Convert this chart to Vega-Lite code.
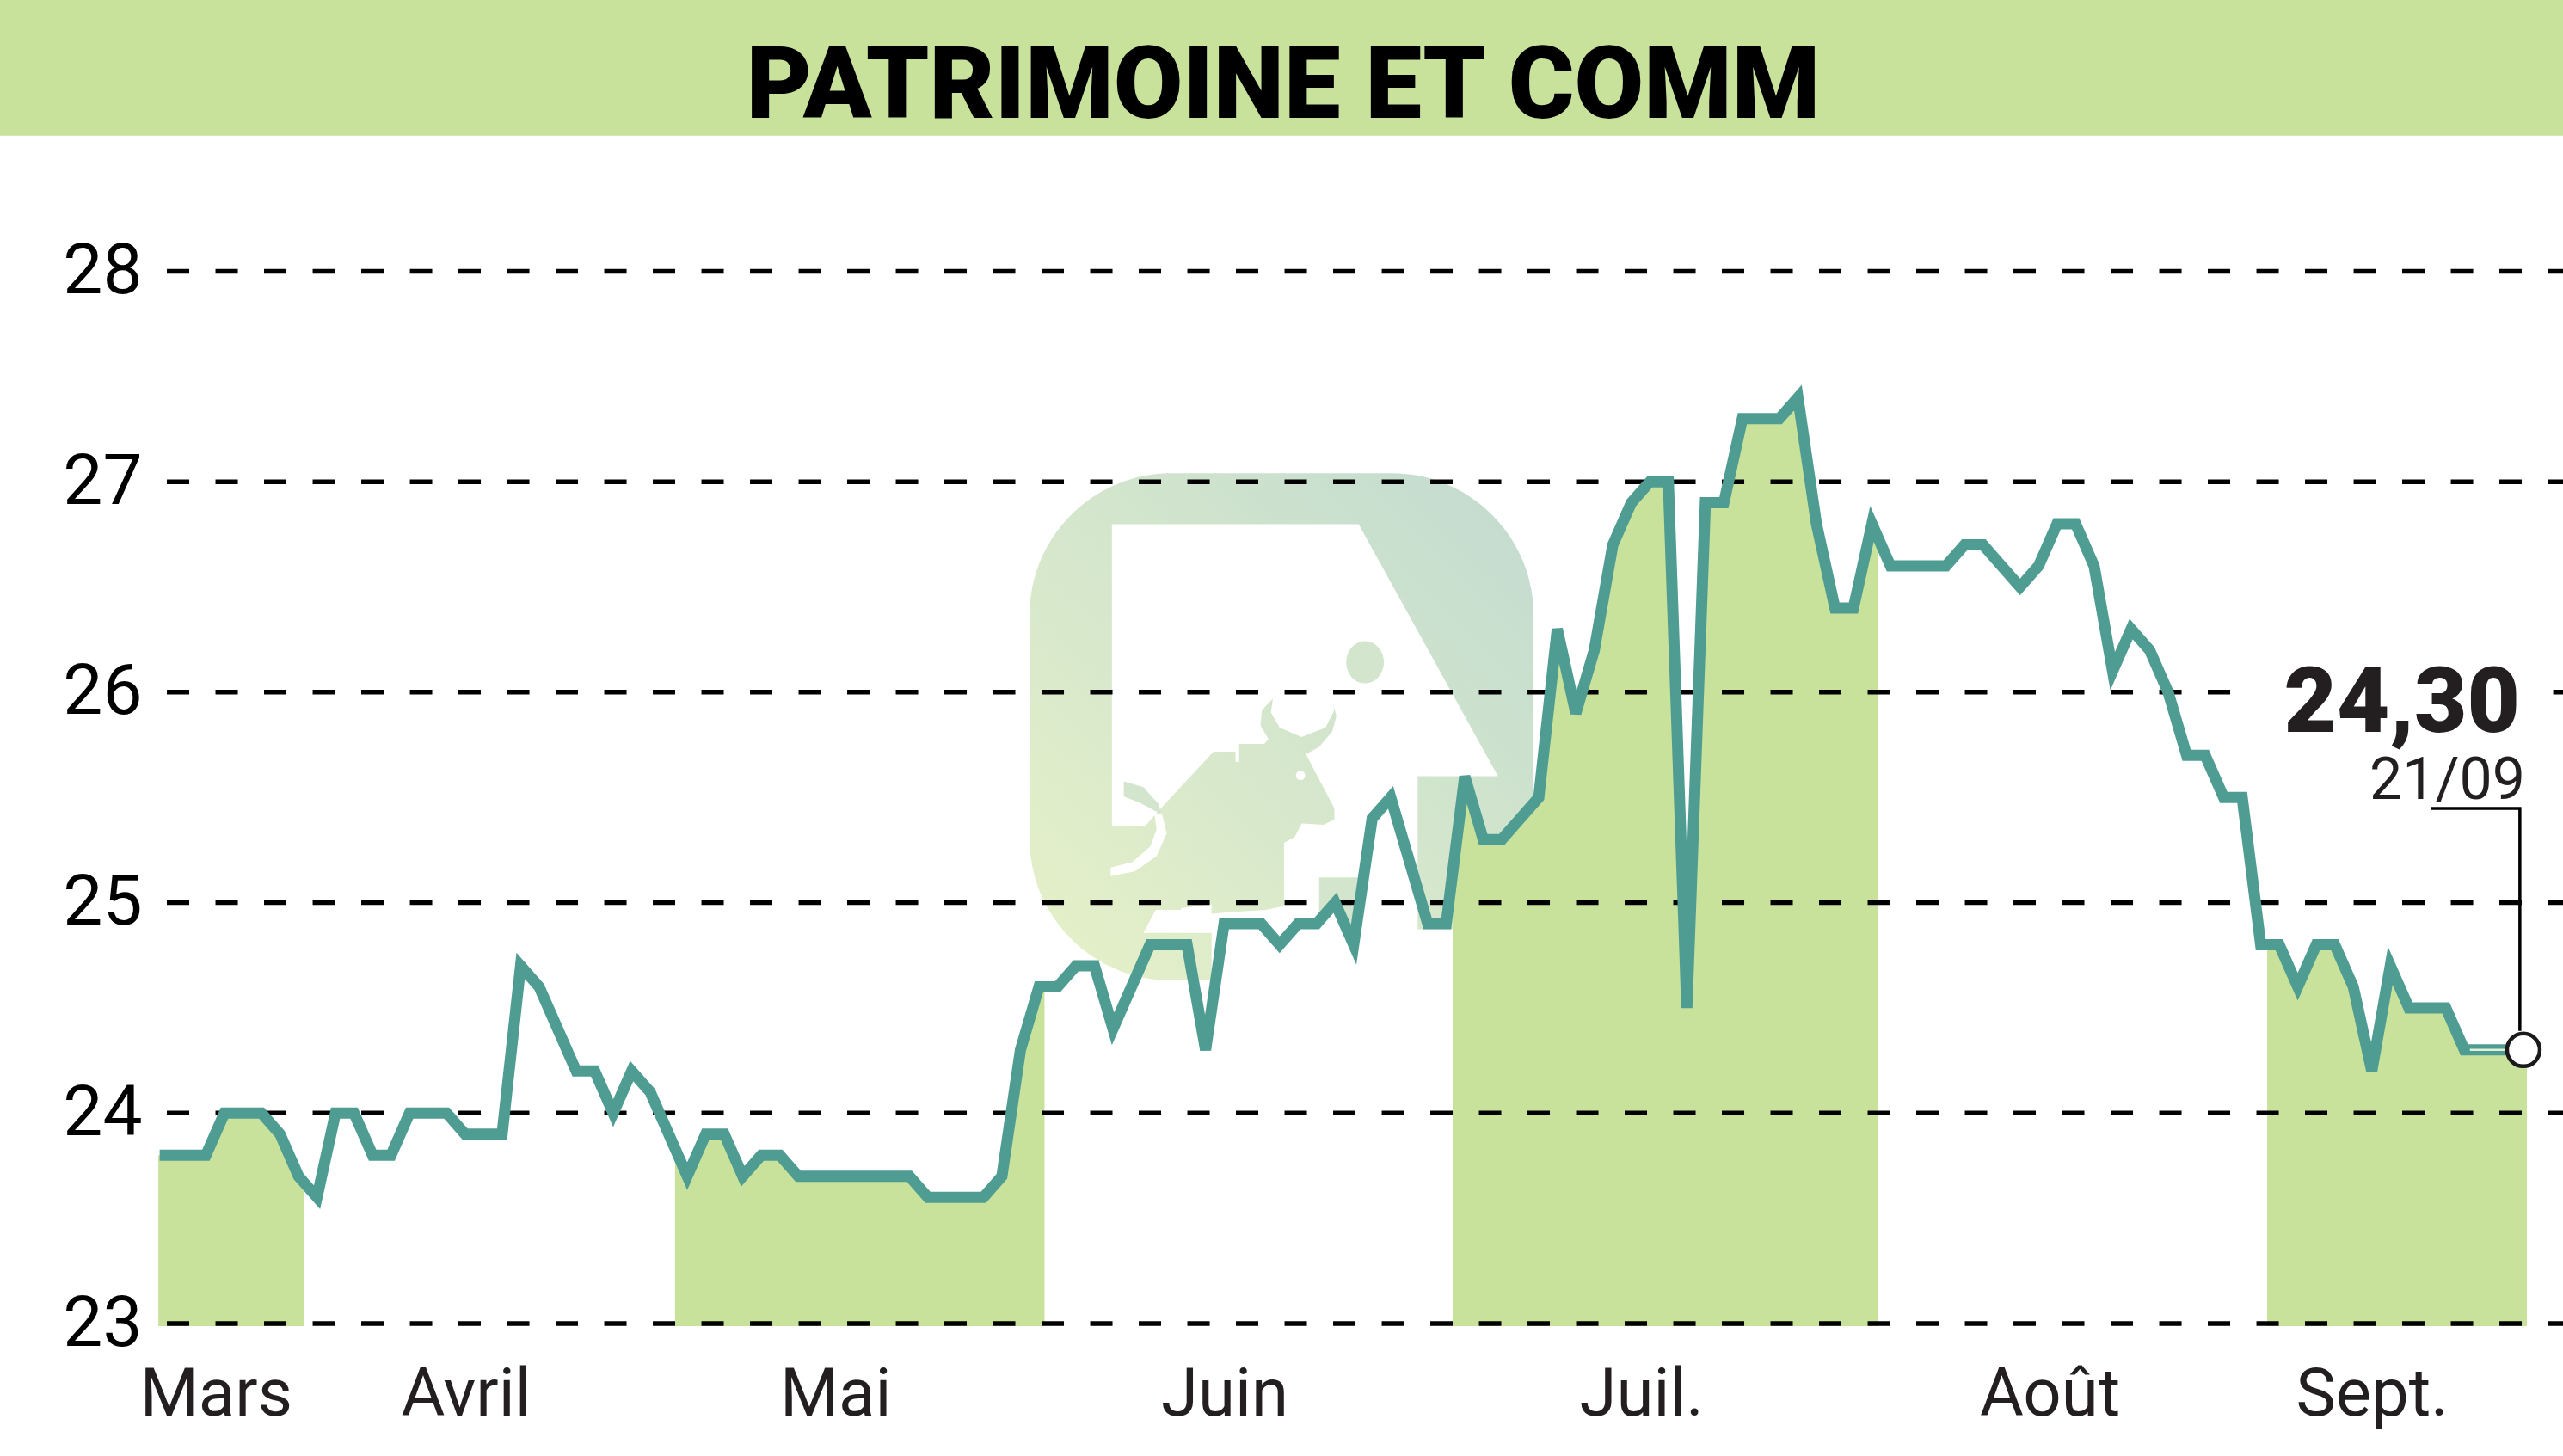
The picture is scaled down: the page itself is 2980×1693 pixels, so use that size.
{
  "$schema": "https://vega.github.io/schema/vega-lite/v6.json",
  "width": 2796,
  "height": 1539,
  "autosize": "none",
  "padding": {"left": 184, "top": 0, "right": 0, "bottom": 154},
  "background": "white",
  "view": {"stroke": null},
  "datasets": {
    "prices": [
      {"day": -0.5, "price": 23.8}, {"day": 0, "price": 23.8}, {"day": 1, "price": 23.8}, {"day": 2, "price": 23.8},
      {"day": 3, "price": 24.0}, {"day": 4, "price": 24.0}, {"day": 5, "price": 24.0}, {"day": 6, "price": 23.9},
      {"day": 7, "price": 23.7}, {"day": 8, "price": 23.6}, {"day": 9, "price": 24.0}, {"day": 10, "price": 24.0},
      {"day": 11, "price": 23.8}, {"day": 12, "price": 23.8}, {"day": 13, "price": 24.0}, {"day": 14, "price": 24.0},
      {"day": 15, "price": 24.0}, {"day": 16, "price": 23.9}, {"day": 17, "price": 23.9}, {"day": 18, "price": 23.9},
      {"day": 19, "price": 24.7}, {"day": 20, "price": 24.6}, {"day": 21, "price": 24.4}, {"day": 22, "price": 24.2},
      {"day": 23, "price": 24.2}, {"day": 24, "price": 24.0}, {"day": 25, "price": 24.2}, {"day": 26, "price": 24.1},
      {"day": 27, "price": 23.9}, {"day": 28, "price": 23.7}, {"day": 29, "price": 23.9}, {"day": 30, "price": 23.9},
      {"day": 31, "price": 23.7}, {"day": 32, "price": 23.8}, {"day": 33, "price": 23.8}, {"day": 34, "price": 23.7},
      {"day": 35, "price": 23.7}, {"day": 36, "price": 23.7}, {"day": 37, "price": 23.7}, {"day": 38, "price": 23.7},
      {"day": 39, "price": 23.7}, {"day": 40, "price": 23.7}, {"day": 41, "price": 23.6}, {"day": 42, "price": 23.6},
      {"day": 43, "price": 23.6}, {"day": 44, "price": 23.6}, {"day": 45, "price": 23.7}, {"day": 46, "price": 24.3},
      {"day": 47, "price": 24.6}, {"day": 48, "price": 24.6}, {"day": 49, "price": 24.7}, {"day": 50, "price": 24.7},
      {"day": 51, "price": 24.4}, {"day": 52, "price": 24.6}, {"day": 53, "price": 24.8}, {"day": 54, "price": 24.8},
      {"day": 55, "price": 24.8}, {"day": 56, "price": 24.3}, {"day": 57, "price": 24.9}, {"day": 58, "price": 24.9},
      {"day": 59, "price": 24.9}, {"day": 60, "price": 24.8}, {"day": 61, "price": 24.9}, {"day": 62, "price": 24.9},
      {"day": 63, "price": 25.0}, {"day": 64, "price": 24.8}, {"day": 65, "price": 25.4}, {"day": 66, "price": 25.5},
      {"day": 67, "price": 25.2}, {"day": 68, "price": 24.9}, {"day": 69, "price": 24.9}, {"day": 70, "price": 25.6},
      {"day": 71, "price": 25.3}, {"day": 72, "price": 25.3}, {"day": 73, "price": 25.4}, {"day": 74, "price": 25.5},
      {"day": 75, "price": 26.3}, {"day": 76, "price": 25.9}, {"day": 77, "price": 26.2}, {"day": 78, "price": 26.7},
      {"day": 79, "price": 26.9}, {"day": 80, "price": 27.0}, {"day": 81, "price": 27.0}, {"day": 82, "price": 24.5},
      {"day": 83, "price": 26.9}, {"day": 84, "price": 26.9}, {"day": 85, "price": 27.3}, {"day": 86, "price": 27.3},
      {"day": 87, "price": 27.3}, {"day": 88, "price": 27.4}, {"day": 89, "price": 26.8}, {"day": 90, "price": 26.4},
      {"day": 91, "price": 26.4}, {"day": 92, "price": 26.8}, {"day": 93, "price": 26.6}, {"day": 94, "price": 26.6},
      {"day": 95, "price": 26.6}, {"day": 96, "price": 26.6}, {"day": 97, "price": 26.7}, {"day": 98, "price": 26.7},
      {"day": 99, "price": 26.6}, {"day": 100, "price": 26.5}, {"day": 101, "price": 26.6}, {"day": 102, "price": 26.8},
      {"day": 103, "price": 26.8}, {"day": 104, "price": 26.6}, {"day": 105, "price": 26.1}, {"day": 106, "price": 26.3},
      {"day": 107, "price": 26.2}, {"day": 108, "price": 26.0}, {"day": 109, "price": 25.7}, {"day": 110, "price": 25.7},
      {"day": 111, "price": 25.5}, {"day": 112, "price": 25.5}, {"day": 113, "price": 24.8}, {"day": 114, "price": 24.8},
      {"day": 115, "price": 24.6}, {"day": 116, "price": 24.8}, {"day": 117, "price": 24.8}, {"day": 118, "price": 24.6},
      {"day": 119, "price": 24.2}, {"day": 120, "price": 24.7}, {"day": 121, "price": 24.5}, {"day": 122, "price": 24.5},
      {"day": 123, "price": 24.5}, {"day": 124, "price": 24.3}, {"day": 125, "price": 24.3}, {"day": 126, "price": 24.3},
      {"day": 127.19, "price": 24.3}
    ],
    "shaded": [
      {"month": "Mars", "day": -0.57, "price": 23.8}, {"month": "Mars", "day": 2, "price": 23.8},
      {"month": "Mars", "day": 3, "price": 24.0}, {"month": "Mars", "day": 5, "price": 24.0},
      {"month": "Mars", "day": 6, "price": 23.9}, {"month": "Mars", "day": 7, "price": 23.7},
      {"month": "Mars", "day": 7.3, "price": 23.67},
      {"month": "Mai", "day": 27.34, "price": 23.85}, {"month": "Mai", "day": 28, "price": 23.7},
      {"month": "Mai", "day": 29, "price": 23.9}, {"month": "Mai", "day": 30, "price": 23.9},
      {"month": "Mai", "day": 31, "price": 23.7}, {"month": "Mai", "day": 32, "price": 23.8},
      {"month": "Mai", "day": 33, "price": 23.8}, {"month": "Mai", "day": 34, "price": 23.7},
      {"month": "Mai", "day": 40, "price": 23.7}, {"month": "Mai", "day": 41, "price": 23.6},
      {"month": "Mai", "day": 44, "price": 23.6}, {"month": "Mai", "day": 45, "price": 23.7},
      {"month": "Mai", "day": 46, "price": 24.3}, {"month": "Mai", "day": 47, "price": 24.6},
      {"month": "Mai", "day": 47.3, "price": 24.6},
      {"month": "Juil.", "day": 69.35, "price": 25.15}, {"month": "Juil.", "day": 70, "price": 25.6},
      {"month": "Juil.", "day": 71, "price": 25.3}, {"month": "Juil.", "day": 72, "price": 25.3},
      {"month": "Juil.", "day": 73, "price": 25.4}, {"month": "Juil.", "day": 74, "price": 25.5},
      {"month": "Juil.", "day": 75, "price": 26.3}, {"month": "Juil.", "day": 76, "price": 25.9},
      {"month": "Juil.", "day": 77, "price": 26.2}, {"month": "Juil.", "day": 78, "price": 26.7},
      {"month": "Juil.", "day": 79, "price": 26.9}, {"month": "Juil.", "day": 80, "price": 27.0},
      {"month": "Juil.", "day": 81, "price": 27.0}, {"month": "Juil.", "day": 82, "price": 24.5},
      {"month": "Juil.", "day": 83, "price": 26.9}, {"month": "Juil.", "day": 84, "price": 26.9},
      {"month": "Juil.", "day": 85, "price": 27.3}, {"month": "Juil.", "day": 87, "price": 27.3},
      {"month": "Juil.", "day": 88, "price": 27.4}, {"month": "Juil.", "day": 89, "price": 26.8},
      {"month": "Juil.", "day": 90, "price": 26.4}, {"month": "Juil.", "day": 91, "price": 26.4},
      {"month": "Juil.", "day": 92, "price": 26.8}, {"month": "Juil.", "day": 92.33, "price": 26.73},
      {"month": "Sept.", "day": 113.35, "price": 24.8}, {"month": "Sept.", "day": 114, "price": 24.8},
      {"month": "Sept.", "day": 115, "price": 24.6}, {"month": "Sept.", "day": 116, "price": 24.8},
      {"month": "Sept.", "day": 117, "price": 24.8}, {"month": "Sept.", "day": 118, "price": 24.6},
      {"month": "Sept.", "day": 119, "price": 24.2}, {"month": "Sept.", "day": 120, "price": 24.7},
      {"month": "Sept.", "day": 121, "price": 24.5}, {"month": "Sept.", "day": 123, "price": 24.5},
      {"month": "Sept.", "day": 124, "price": 24.3}, {"month": "Sept.", "day": 127.38, "price": 24.27}
    ],
    "levels": [
      {"day": -0.11, "day2": 130, "price": 23}, {"day": -0.11, "day2": 130, "price": 24},
      {"day": -0.11, "day2": 130, "price": 25}, {"day": -0.11, "day2": 130, "price": 26},
      {"day": -0.11, "day2": 130, "price": 27}, {"day": -0.11, "day2": 130, "price": 28}
    ],
    "banner": [{"day": -10, "day2": 130, "price": 29.3, "price2": 28.644}],
    "heading": [{"day": 60.2, "price": 28.729, "name": "PATRIMOINE ET COMM"}],
    "labelbox": [{"day": 111.7, "day2": 128.8, "price": 26.245, "price2": 25.775}],
    "last": [{"day": 127.19, "price": 24.3, "close": "24,30", "date": "21/09"}],
    "leader": [
      {"step": 0, "day": 122.2, "price": 25.448},
      {"step": 1, "day": 127.0, "price": 25.448},
      {"step": 2, "day": 127.0, "price": 24.39}
    ],
    "logo": [{"day": 60.1, "price": 25.836, "day2": 73.72, "left": 46.49, "top": 27.04, "bottom": 24.63}]
  },
  "encoding": {
    "x": {
      "field": "day",
      "type": "quantitative",
      "scale": {"domain": [-0.576, 129.33], "nice": false, "zero": false},
      "axis": {
        "title": null,
        "domain": false,
        "ticks": false,
        "grid": false,
        "values": [2.53, 16.04, 36, 57.01, 79.53, 101.6, 119],
        "labelExpr": "['Mars','Avril','Mai','Juin','Juil.','Août','Sept.'][indexof([2.53,16.04,36,57.01,79.53,101.6,119],datum.value)]",
        "labelFont": "Roboto",
        "labelFontSize": 78,
        "labelColor": "#231f20",
        "labelBaseline": "alphabetic",
        "labelPadding": 106,
        "labelLimit": 500,
        "labelFlush": false,
        "labelOverlap": false
      }
    },
    "y": {
      "field": "price",
      "type": "quantitative",
      "scale": {"domain": [23, 29.289], "nice": false, "zero": false},
      "axis": {
        "title": null,
        "domain": false,
        "ticks": false,
        "grid": false,
        "values": [23, 24, 25, 26, 27, 28],
        "format": "d",
        "labelFont": "Roboto",
        "labelFontSize": 82,
        "labelColor": "black",
        "labelPadding": 19,
        "labelLimit": 500,
        "labelFlush": false,
        "labelOverlap": false
      }
    }
  },
  "layer": [
    {
      "data": {"name": "logo"},
      "mark": {
        "type": "rect",
        "cornerRadius": 165,
        "color": {
          "gradient": "linear",
          "x1": 0, "y1": 1, "x2": 1, "y2": 0,
          "stops": [{"offset": 0, "color": "#e6f1c8"}, {"offset": 1, "color": "#c2dbd0"}]
        }
      },
      "encoding": {
        "x": {"field": "left", "type": "quantitative"},
        "x2": {"field": "day2"},
        "y": {"field": "top", "type": "quantitative"},
        "y2": {"field": "bottom"}
      }
    },
    {
      "data": {"name": "logo"},
      "mark": {
        "type": "point",
        "filled": true,
        "opacity": 1,
        "color": "white",
        "size": 360000,
        "shape": "M-.657,-.785 L.299,-.785 L.839,.192 L.528,.192 L.528,.785 L.979,.785 L.979,1.023 L-.271,1.023 L-.271,.725 L-.195,.718 L-.059,.71 L.01,.695 L.01,.45 L.052,.427 L.078,.375 L.163,.38 L.205,.36 L.205,.316 L.095,.107 L.146,.078 L.197,.018 L.213,-.041 L.197,-.101 L.205,-.064 L.171,.003 L.078,.04 L-.007,.003 L-.041,-.056 L-.033,-.108 L-.076,-.064 L-.081,-.004 L-.05,.048 L-.067,.067 L-.164,.067 L-.164,.137 L-.178,.137 L-.178,.097 L-.263,.097 L-.467,.316 L-.527,.383 L-.657,.383 Z M-.271,.688 L-.271,.799 L-.535,.799 L-.487,.71 L-.39,.71 L-.39,.703 Z M-.463,.338 L-.445,.413 L-.484,.502 L-.569,.561 L-.662,.579 L-.662,.546 L-.577,.524 L-.509,.465 L-.484,.398 L-.492,.338 Z M.056,.189 A.018,.018 0 1 1 .092,.189 A.018,.018 0 1 1 .056,.189 Z"
      }
    },
    {
      "data": {"name": "logo"},
      "mark": {
        "type": "point",
        "filled": true,
        "opacity": 1,
        "color": "#d3e6cd",
        "size": 360000,
        "shape": "M-.611,.212 L-.535,.234 L-.475,.301 L-.467,.338 L-.552,.293 L-.611,.271 Z M.146,.584 L.299,.584 L.299,.829 L.213,.665 L.146,.762 Z M.251,-.25 A.073,.082 0 1 1 .397,-.25 A.073,.082 0 1 1 .251,-.25 Z"
      }
    },
    {
      "data": {"name": "shaded"},
      "mark": {"type": "area", "color": "#c8e29b", "opacity": 1},
      "encoding": {
        "y2": {"datum": 22.988},
        "detail": {"field": "month"}
      }
    },
    {
      "data": {"name": "levels"},
      "mark": {"type": "rule", "color": "black", "strokeWidth": 5.5, "strokeDash": [26, 30.5]},
      "encoding": {"x2": {"field": "day2"}}
    },
    {
      "data": {"name": "labelbox"},
      "mark": {"type": "rect", "color": "white"},
      "encoding": {
        "x2": {"field": "day2"},
        "y2": {"field": "price2"}
      }
    },
    {
      "data": {"name": "banner"},
      "mark": {"type": "rect", "color": "#c8e29b"},
      "encoding": {
        "x2": {"field": "day2"},
        "y2": {"field": "price2"}
      }
    },
    {
      "data": {"name": "heading"},
      "mark": {"type": "text", "align": "center", "baseline": "alphabetic", "font": "Roboto", "fontWeight": 900, "fontSize": 117, "color": "black"},
      "encoding": {"text": {"field": "name"}}
    },
    {
      "data": {"name": "prices"},
      "mark": {"type": "line", "color": "#4f9d92", "strokeWidth": 13, "strokeJoin": "miter"}
    },
    {
      "data": {"values": [{"day": 124.3, "price": 24.3}, {"day": 126.4, "price": 24.3}]},
      "mark": {"type": "line", "color": "#e4efd8", "strokeWidth": 2.5}
    },
    {
      "data": {"name": "leader"},
      "mark": {"type": "line", "color": "black", "strokeWidth": 3.5, "strokeJoin": "miter"},
      "encoding": {"order": {"field": "step"}}
    },
    {
      "data": {"name": "last"},
      "mark": {"type": "point", "shape": "circle", "filled": true, "opacity": 1, "fill": "white", "stroke": "#1a1a1a", "strokeWidth": 4.5, "size": 1444}
    },
    {
      "data": {"name": "last"},
      "mark": {"type": "text", "align": "right", "baseline": "alphabetic", "dx": -4, "dy": -370, "font": "Roboto", "fontWeight": 900, "fontSize": 106, "color": "#231f20"},
      "encoding": {"text": {"field": "close"}}
    },
    {
      "data": {"name": "last"},
      "mark": {"type": "text", "align": "right", "baseline": "alphabetic", "dx": 2, "dy": -292, "font": "Roboto", "fontSize": 68, "color": "#231f20"},
      "encoding": {"text": {"field": "date"}}
    }
  ]
}
